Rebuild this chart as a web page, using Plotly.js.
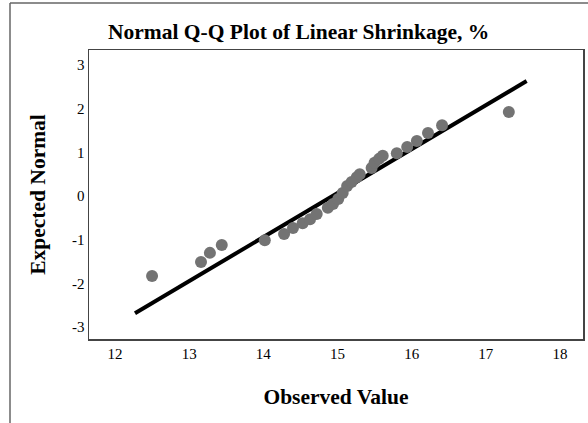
<!DOCTYPE html>
<html>
<head>
<meta charset="utf-8">
<script src="https://cdn.plot.ly/plotly-3.0.1.min.js"></script>
<style>html,body{margin:0;padding:0;background:#fff;}#chart{width:588px;height:423px;}</style>
</head>
<body>
<div id="chart"></div>
<script>
const observed = [12.50, 13.16, 13.28, 13.44, 14.02, 14.28, 14.40, 14.53, 14.63, 14.72,
                  14.87, 14.94, 15.01, 15.07, 15.13, 15.19, 15.26, 15.30, 15.46, 15.50,
                  15.56, 15.61, 15.80, 15.94, 16.07, 16.22, 16.41, 17.31];
const expected = [-1.83, -1.51, -1.30, -1.12, -1.01, -0.87, -0.73, -0.62, -0.53, -0.41,
                  -0.27, -0.18, -0.07, 0.07, 0.23, 0.32, 0.43, 0.50, 0.64, 0.76,
                  0.85, 0.92, 0.98, 1.12, 1.26, 1.44, 1.62, 1.92];
// Reference line endpoints
const lineX = [12.27, 17.55];
const lineY = [-2.68, 2.63];
const xTicks = [12, 13, 14, 15, 16, 17, 18];
const yTicks = [-3, -2, -1, 0, 1, 2, 3];

const serif = "Liberation Serif, Times New Roman, serif";
const data = [
  {x: lineX, y: lineY, mode: 'lines', type: 'scatter',
   line: {color: '#000', width: 4}, hoverinfo: 'skip'},
  {x: observed, y: expected, mode: 'markers', type: 'scatter',
   marker: {color: '#737373', size: 12}}
];
const layout = {
  width: 588, height: 423,
  margin: {l: 89, r: 5, t: 50, b: 84},
  paper_bgcolor: '#fff', plot_bgcolor: '#fff',
  showlegend: false,
  font: {family: serif, color: '#000'},
  xaxis: {range: [11.65, 18.31], tickvals: xTicks, ticktext: xTicks.map(String),
          showgrid: false, zeroline: false, showline: true, mirror: true,
          linecolor: '#444', linewidth: 1.5, ticks: '',
          tickfont: {family: serif, size: 15, color: '#000'},
          title: {text: '<b>Observed Value</b>', font: {family: serif, size: 21.5, color: '#000'}, standoff: 28}},
  yaxis: {range: [-3.27, 3.34], tickvals: yTicks, ticktext: yTicks.map(String),
          showgrid: false, zeroline: false, showline: true, mirror: true,
          linecolor: '#444', linewidth: 1.5, ticks: '',
          tickfont: {family: serif, size: 15, color: '#000'},
          title: {text: '<b>Expected Normal</b>', font: {family: serif, size: 21.5, color: '#000'}, standoff: 20}},
  annotations: [{
    text: '<b>Normal Q-Q Plot of Linear Shrinkage, %</b>', xref: 'paper', yref: 'paper',
    x: (298 - 89) / 494, y: (339 - 32) / 289, xanchor: 'center', yanchor: 'middle',
    showarrow: false, font: {family: serif, size: 21.5, color: '#000'}
  }],
  shapes: [
    {type: 'line', xref: 'paper', yref: 'paper', x0: (10 - 89) / 494, x1: (10 - 89) / 494,
     y0: (339 - 3) / 289, y1: (339 - 423) / 289, line: {color: '#666', width: 1.5}},
    {type: 'line', xref: 'paper', yref: 'paper', x0: (10 - 89) / 494, x1: (588 - 89) / 494,
     y0: (339 - 3) / 289, y1: (339 - 3) / 289, line: {color: '#666', width: 1.5}}
  ]
};
Plotly.newPlot('chart', data, layout, {displayModeBar: false, staticPlot: true});
</script>
</body>
</html>
